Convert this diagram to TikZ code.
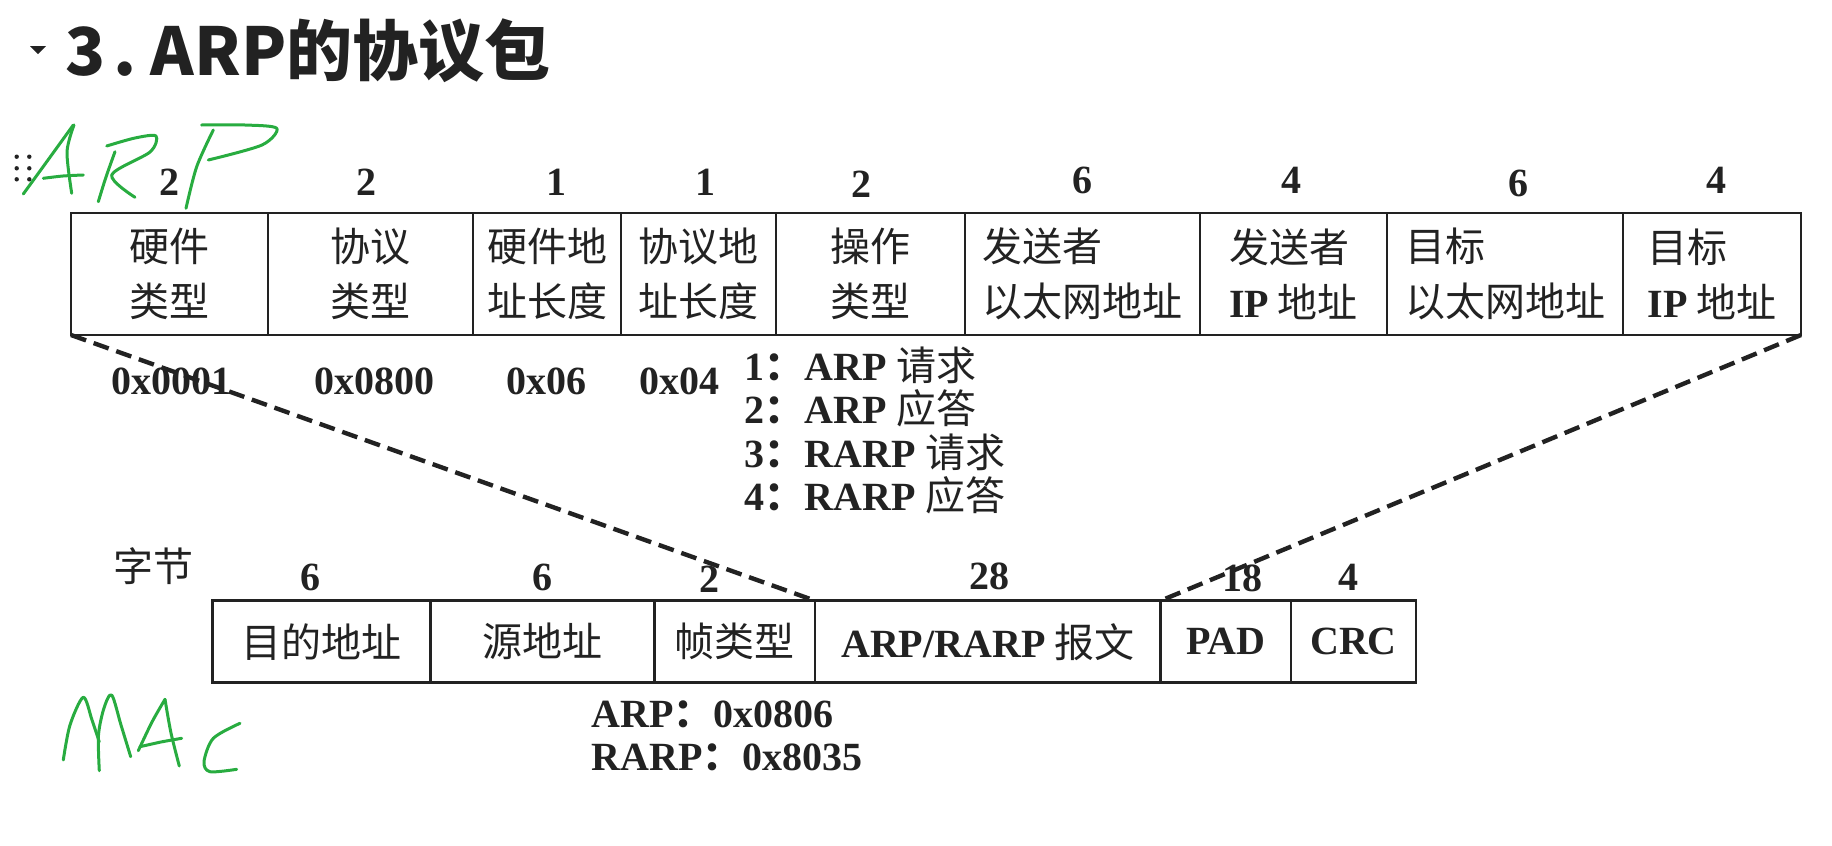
\documentclass[tikz,border=0pt]{standalone}
\usepackage{fontspec}
\setmainfont{Liberation Serif}
\newfontfamily\cjk{Noto Sans CJK SC}
\usetikzlibrary{positioning}
\definecolor{ink}{HTML}{222222}
\definecolor{pen}{RGB}{40,172,64}
\newcommand{\lat}[1]{{\rmfamily\bfseries #1}}
\newcommand{\zh}[1]{{\cjk\mdseries #1}}
\newcommand{\fwc}{{\cjk\bfseries ：}}
\tikzset{
  cell/.style={draw=ink, line width=1.3pt, inner sep=2pt, outer sep=0pt, minimum height=61pt,
    align=left, text=ink, font=\cjk\fontsize{20}{27.5}\selectfont},
  frame/.style={cell, minimum height=41pt},
  num/.style={font=\rmfamily\bfseries\fontsize{20}{24}\selectfont, text=ink, anchor=base, inner sep=0pt},
  hand/.style={draw=pen, line width=1.5pt, line cap=round, line join=round},
  zoomline/.style={draw=ink, line width=2.2pt, dash pattern=on 8pt off 4pt}
}
\begin{document}
\begin{tikzpicture}[x=0.5pt, y=-0.5pt]
    \useasboundingbox (0,0) rectangle (1832,846);

    % title
    \fill[ink] (30,46) -- (46,46) -- (38,54) -- cycle;
    \node[anchor=base west, inner sep=0pt, text=ink, font=\cjk\bfseries\fontsize{33}{40}\selectfont] (title) at (65,75) {3\hspace{4pt}.\hspace{7pt}ARP的协议包};
    \foreach \dx in {16.7,29.3}
        \foreach \dy in {156.7,168.3,179.3}
            \fill[ink] (\dx,\dy) circle (1.1pt);

    % ARP packet
    \node[cell, minimum width=98.5pt, anchor=north west] (hwtype) at (71,213) {硬件\\类型};
    \node[cell, minimum width=102.5pt, right=0pt of hwtype] (prtype) {协议\\类型};
    \node[cell, minimum width=74pt, right=0pt of prtype] (hwlen) {硬件地\\址长度};
    \node[cell, minimum width=77.5pt, right=0pt of hwlen] (prlen) {协议地\\址长度};
    \node[cell, minimum width=94.5pt, right=0pt of prlen] (optype) {操作\\类型};
    \node[cell, minimum width=117.5pt, right=0pt of optype] (sndmac) {发送者\\以太网地址};
    \node[cell, minimum width=93.5pt, right=0pt of sndmac] (sndip) {发送者\\\lat{IP} 地址};
    \node[cell, minimum width=118pt, right=0pt of sndip] (tgtmac) {目标\\以太网地址};
    \node[cell, minimum width=89pt, right=0pt of tgtmac] (tgtip) {目标\\\lat{IP} 地址};

    \node[num] at (169,195) {2};
    \node[num] at (366,195) {2};
    \node[num] at (556,195) {1};
    \node[num] at (705,195) {1};
    \node[num] at (861,197) {2};
    \node[num] at (1082,193) {6};
    \node[num] at (1291,193) {4};
    \node[num] at (1518,196) {6};
    \node[num] at (1716,193) {4};

    \node[num] at (171.5,394) {0x0001};
    \node[num] at (374.6,394) {0x0800};
    \node[num] at (546,394) {0x06};
    \node[num] at (679.5,394) {0x04};

    \node[num, anchor=base west] (op1) at (744,380) {1\fwc ARP \zh{请求}};
    \node[num, anchor=base west] (op2) at (744,423.5) {2\fwc ARP \zh{应答}};
    \node[num, anchor=base west] (op3) at (744,467) {3\fwc RARP \zh{请求}};
    \node[num, anchor=base west] (op4) at (744,510.5) {4\fwc RARP \zh{应答}};

    % Ethernet frame
    \node[text=ink, inner sep=0pt, font=\cjk\fontsize{20}{24}\selectfont] (bytes) at (153.5,566) {字节};
    \node[frame, minimum width=109pt, anchor=north west] (dst) at (212.4,600.7) {目的地址};
    \node[frame, minimum width=112pt, right=0pt of dst] (src) {源地址};
    \node[frame, minimum width=80.3pt, right=0pt of src] (ftype) {帧类型};
    \node[frame, minimum width=172.8pt, right=0pt of ftype] (msg) {\lat{ARP/RARP} 报文};
    \node[frame, minimum width=65.2pt, right=0pt of msg] (pad) {\lat{PAD}};
    \node[frame, minimum width=62.5pt, right=0pt of pad] (crc) {\lat{CRC}};

    \node[num] at (310,590) {6};
    \node[num] at (542.5,590) {6};
    \node[num] at (709,592) {2};
    \node[num] at (989.7,589) {28};
    \node[num] at (1242,591) {18};
    \node[num] at (1348,590) {4};

    \node[num, anchor=base west] (arptype) at (591,727) {ARP\fwc 0x0806};
    \node[num, anchor=base west] (rarptype) at (591,770) {RARP\fwc 0x8035};

    \draw[zoomline] (hwtype.south west) -- (msg.north west);
    \draw[zoomline] (tgtip.south east) -- (msg.north east);

    % handwriting
    \draw[hand] plot[smooth] coordinates {(23.3,194) (48,160) (73.3,125)};
    \draw[hand] plot[smooth] coordinates {(74,125) (67,152) (71.7,193.3)};
    \draw[hand] plot[smooth] coordinates {(43.3,178.3) (63,176) (83.3,175)};
    \draw[hand] plot[smooth] coordinates {(115,151.7) (106,177) (98.3,201.7)};
    \draw[hand] plot[smooth] coordinates {(106.7,146) (135,138) (156,136) (150,152) (111.7,175) (135,197.3)};
    \draw[hand] plot[smooth] coordinates {(213.3,130) (196.7,166.7) (186,208.3)};
    \draw[hand] plot[smooth] coordinates {(201.7,125) (245,125) (276.7,128.3) (262,145) (208.3,160)};
    \draw[hand] plot[smooth] coordinates {(63.3,760) (70,725) (83.3,697.3) (92,720) (99.3,742)};
    \draw[hand] plot[smooth] coordinates {(99.3,770.7) (98.5,735) (104,708) (111.7,695) (121,725) (130.7,756.7)};
    \draw[hand] plot[smooth] coordinates {(138.3,750.7) (152,722) (165,699.3)};
    \draw[hand] plot[smooth] coordinates {(165,699.3) (171,733) (179.3,766)};
    \draw[hand] plot[smooth] coordinates {(140,746.7) (161,742) (181.7,738.3)};
    \draw[hand] plot[smooth] coordinates {(240,723.3) (213.3,738.3) (204,761.7) (210,771.7) (236.7,769.3)};
\end{tikzpicture}
\end{document}
